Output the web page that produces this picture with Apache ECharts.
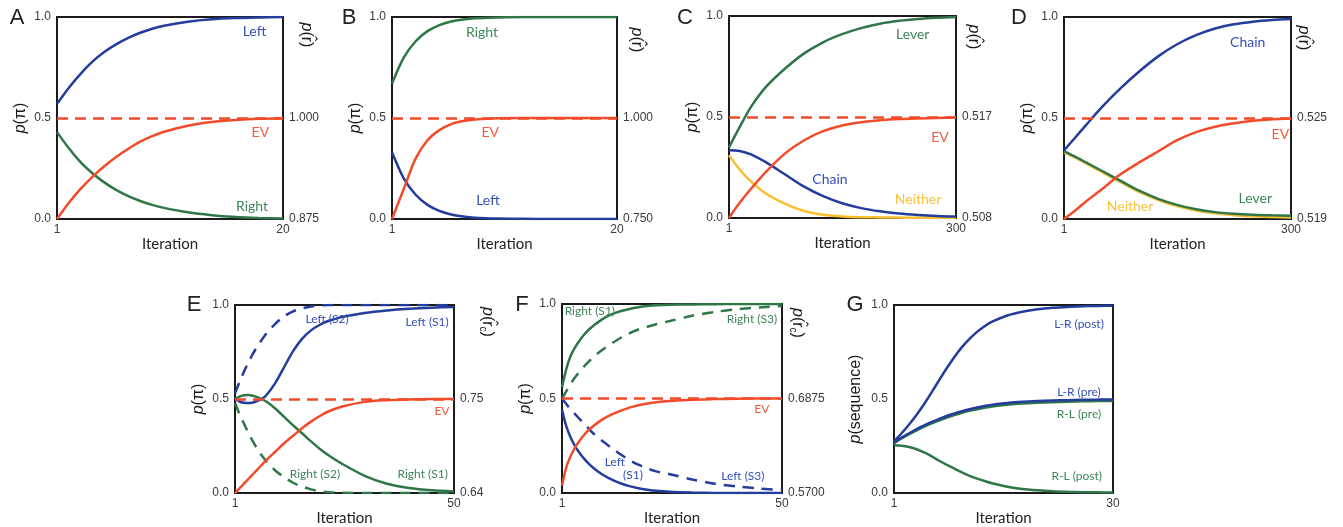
<!DOCTYPE html>
<html>
<head>
<meta charset="utf-8">
<title>Policy learning curves</title>
<script src="https://cdn.jsdelivr.net/npm/echarts@6/dist/echarts.min.js"></script>
<style>
  html, body { margin: 0; padding: 0; background: #fff; }
  #chart { width: 1343px; height: 527px; }
</style>
</head>
<body>
<div id="chart"></div>
<script>
// line colours
const BLUE = '#243c9c', GREEN = '#2f7649', RED = '#f24b2a', YELLOW = '#f9bf30';
// label colours (a bit lighter than the lines)
const BLUE_T = '#3450b8', GREEN_T = '#3d8658', RED_T = '#f35a3a', YELLOW_T = '#fbc03c';

// ---- A ----
const iterA = [1, 2, 3, 4, 5, 6, 7, 8, 9, 10, 12, 14, 16, 18, 20];
const aLeft = [0.57, 0.65, 0.72, 0.78, 0.828, 0.866, 0.897, 0.922, 0.942, 0.957, 0.977, 0.989, 0.995, 0.998, 1.0];
const aRight = [0.43, 0.35, 0.28, 0.225, 0.18, 0.143, 0.113, 0.089, 0.07, 0.055, 0.033, 0.019, 0.01, 0.005, 0.002];
const aEV = [0, 0.08, 0.15, 0.21, 0.262, 0.308, 0.348, 0.383, 0.41, 0.432, 0.462, 0.48, 0.49, 0.496, 0.499];
const rightA = ['0.875', '1.000'];

// ---- B ----
const iterB = [1, 2, 3, 4, 5, 6, 7, 8, 10, 12, 14, 16, 18, 20];
const bRight = [0.67, 0.8, 0.88, 0.93, 0.96, 0.978, 0.988, 0.994, 0.998, 1, 1, 1, 1, 1];
const bLeft = [0.33, 0.2, 0.12, 0.07, 0.04, 0.022, 0.012, 0.006, 0.002, 0.001, 0, 0, 0, 0];
const bEV = [0, 0.15, 0.3, 0.39, 0.44, 0.47, 0.485, 0.493, 0.499, 0.5, 0.5, 0.5, 0.5, 0.5];
const rightB = ['0.750', '1.000'];

// ---- C ----
const iterC = [1, 15, 30, 50, 75, 100, 125, 150, 175, 200, 225, 250, 275, 300];
const cLever = [0.35, 0.45, 0.55, 0.65, 0.74, 0.815, 0.87, 0.91, 0.94, 0.962, 0.976, 0.985, 0.991, 0.995];
const cChain = [0.335, 0.332, 0.315, 0.275, 0.215, 0.155, 0.108, 0.073, 0.049, 0.033, 0.022, 0.015, 0.01, 0.007];
const cNeither = [0.31, 0.24, 0.18, 0.12, 0.07, 0.035, 0.016, 0.008, 0.004, 0.003, 0.002, 0.001, 0.001, 0];
const cEV = [0, 0.075, 0.145, 0.23, 0.32, 0.385, 0.43, 0.458, 0.474, 0.484, 0.49, 0.493, 0.495, 0.497];
const rightC = ['0.508', '0.517'];

// ---- D ----
const iterD = [1, 15, 30, 50, 75, 100, 125, 150, 175, 200, 225, 250, 275, 300];
const dChain = [0.34, 0.4, 0.465, 0.55, 0.645, 0.73, 0.805, 0.865, 0.91, 0.943, 0.964, 0.977, 0.985, 0.99];
const dLever = [0.335, 0.31, 0.28, 0.24, 0.19, 0.14, 0.1, 0.07, 0.048, 0.034, 0.026, 0.021, 0.018, 0.016];
const dNeither = [0.33, 0.305, 0.275, 0.234, 0.184, 0.134, 0.094, 0.064, 0.042, 0.028, 0.019, 0.013, 0.01, 0.008];
const dEV = [0, 0.04, 0.087, 0.145, 0.22, 0.28, 0.335, 0.39, 0.43, 0.457, 0.474, 0.486, 0.494, 0.498];
const rightD = ['0.519', '0.525'];

// ---- E ----
const iterE = [1, 2, 3, 4, 5, 6, 7, 8, 10, 12, 14, 16, 18, 20, 22, 25, 30, 35, 40, 45, 50];
const eLeftS1 = [0.5, 0.487, 0.48, 0.479, 0.482, 0.49, 0.5, 0.52, 0.585, 0.67, 0.755, 0.82, 0.865, 0.895, 0.916, 0.937, 0.958, 0.971, 0.98, 0.986, 0.99];
const eLeftS2 = [0.53, 0.59, 0.645, 0.695, 0.74, 0.78, 0.815, 0.848, 0.9, 0.94, 0.966, 0.982, 0.992, 0.997, 1, 1, 1, 1, 1, 1, 1];
const eRightS1 = [0.5, 0.513, 0.52, 0.521, 0.518, 0.51, 0.5, 0.487, 0.45, 0.405, 0.36, 0.318, 0.275, 0.235, 0.2, 0.155, 0.092, 0.05, 0.027, 0.015, 0.009];
const eRightS2 = [0.48, 0.42, 0.37, 0.32, 0.275, 0.235, 0.2, 0.17, 0.12, 0.085, 0.055, 0.035, 0.02, 0.01, 0.005, 0.002, 0, 0, 0, 0, 0];
const eEV = [0, 0.025, 0.05, 0.075, 0.1, 0.125, 0.15, 0.175, 0.22, 0.265, 0.305, 0.345, 0.38, 0.41, 0.435, 0.46, 0.485, 0.494, 0.498, 0.5, 0.5];
const rightE = ['0.64', '0.75'];

// ---- F ----
const iterF = [1, 2, 3, 4, 5, 6, 7, 8, 10, 12, 14, 16, 18, 20, 22, 25, 30, 35, 40, 45, 50];
const fRightS1 = [0.56, 0.66, 0.73, 0.775, 0.81, 0.84, 0.865, 0.885, 0.92, 0.945, 0.962, 0.974, 0.983, 0.989, 0.993, 0.996, 0.998, 0.999, 1, 1, 1];
const fRightS3 = [0.5, 0.54, 0.58, 0.615, 0.645, 0.672, 0.697, 0.72, 0.758, 0.79, 0.82, 0.845, 0.865, 0.88, 0.893, 0.91, 0.938, 0.958, 0.972, 0.982, 0.99];
const fLeftS1 = [0.44, 0.35, 0.29, 0.245, 0.21, 0.18, 0.155, 0.133, 0.098, 0.072, 0.052, 0.037, 0.026, 0.018, 0.012, 0.007, 0.003, 0.001, 0, 0, 0];
const fLeftS3 = [0.5, 0.47, 0.44, 0.415, 0.39, 0.365, 0.34, 0.315, 0.275, 0.24, 0.205, 0.175, 0.15, 0.13, 0.115, 0.1, 0.072, 0.05, 0.035, 0.024, 0.017];
const fEV = [0.04, 0.14, 0.2, 0.245, 0.28, 0.31, 0.335, 0.355, 0.39, 0.415, 0.435, 0.452, 0.465, 0.474, 0.481, 0.487, 0.494, 0.497, 0.499, 0.5, 0.5];
const rightF = ['0.5700', '0.6875'];

// ---- G ----
const iterG = [1, 2, 3, 4, 5, 6, 7, 8, 9, 10, 11, 12, 13, 14, 16, 18, 20, 22, 24, 26, 28, 30];
const gLRpost = [0.275, 0.318, 0.365, 0.417, 0.474, 0.537, 0.602, 0.665, 0.724, 0.776, 0.82, 0.857, 0.887, 0.911, 0.944, 0.964, 0.977, 0.985, 0.99, 0.993, 0.995, 0.996];
const gLRpre = [0.27, 0.295, 0.318, 0.34, 0.36, 0.378, 0.394, 0.41, 0.423, 0.435, 0.446, 0.455, 0.463, 0.47, 0.479, 0.485, 0.489, 0.492, 0.494, 0.496, 0.497, 0.498];
const gRLpre = [0.265, 0.29, 0.313, 0.334, 0.354, 0.371, 0.387, 0.402, 0.415, 0.427, 0.437, 0.446, 0.454, 0.461, 0.47, 0.476, 0.48, 0.483, 0.486, 0.488, 0.489, 0.49];
const gRLpost = [0.255, 0.252, 0.245, 0.233, 0.216, 0.195, 0.172, 0.15, 0.13, 0.11, 0.092, 0.077, 0.064, 0.052, 0.034, 0.022, 0.015, 0.01, 0.007, 0.005, 0.004, 0.003];

const P = '{i|p}(π)';
const R = '{i|p}(r̂)';
const RC = '{i|p}(r̂{s|c})';

const panels = [
  { letter: 'A', at: [17, 18], box: [57, 17, 226, 202], xs: iterA, xMax: 20, right: rightA, rTitle: R, rAt: [306, 35], ref: true, tagSize: 14,
    lines: [{ ys: aLeft, color: BLUE }, { ys: aRight, color: GREEN }, { ys: aEV, color: RED }],
    tags: [[17.6, 0.93, 'Left', BLUE_T], [18.1, 0.43, 'EV', RED_T], [17.4, 0.06, 'Right', GREEN_T]] },
  { letter: 'B', at: [349, 18], box: [392, 17, 225, 202], xs: iterB, xMax: 20, right: rightB, rTitle: R, rAt: [636, 40], ref: true, tagSize: 14,
    lines: [{ ys: bRight, color: GREEN }, { ys: bLeft, color: BLUE }, { ys: bEV, color: RED }],
    tags: [[8.6, 0.925, 'Right', GREEN_T], [9.3, 0.43, 'EV', RED_T], [9.1, 0.094, 'Left', BLUE_T]] },
  { letter: 'C', at: [685, 18], box: [729, 16, 227, 202], xs: iterC, xMax: 300, right: rightC, rTitle: R, rAt: [973, 37], ref: true, tagSize: 14,
    lines: [{ ys: cNeither, color: YELLOW }, { ys: cLever, color: GREEN }, { ys: cChain, color: BLUE }, { ys: cEV, color: RED }],
    tags: [[243, 0.91, 'Lever', GREEN_T], [279, 0.4, 'EV', RED_T], [134, 0.19, 'Chain', BLUE_T], [250, 0.094, 'Neither', YELLOW_T]] },
  { letter: 'D', at: [1019, 18], box: [1064, 17, 227, 202], xs: iterD, xMax: 300, right: rightD, rTitle: R, rAt: [1303, 38], ref: true, tagSize: 14,
    lines: [{ ys: dNeither, color: YELLOW }, { ys: dLever, color: GREEN }, { ys: dChain, color: BLUE }, { ys: dEV, color: RED }],
    tags: [[243, 0.876, 'Chain', BLUE_T], [286, 0.416, 'EV', RED_T], [253, 0.104, 'Lever', GREEN_T], [88, 0.06, 'Neither', YELLOW_T]] },
  { letter: 'E', at: [194, 305], box: [235, 305, 219, 195], xs: iterE, xMax: 50, right: rightE, rTitle: RC, rAt: [487, 322], ref: true, tagSize: 12,
    lines: [{ ys: eRightS2, color: GREEN, dash: true }, { ys: eLeftS2, color: BLUE, dash: true },
            { ys: eRightS1, color: GREEN }, { ys: eLeftS1, color: BLUE }, { ys: eEV, color: RED }],
    tags: [[21.6, 0.923, 'Left (S2)', BLUE_T], [44, 0.91, 'Left (S1)', BLUE_T], [47.3, 0.436, 'EV', RED_T],
           [18.9, 0.103, 'Right (S2)', GREEN_T], [43, 0.1, 'Right (S1)', GREEN_T]] },
  { letter: 'F', at: [522, 305], box: [562, 304, 220, 195], xs: iterF, xMax: 50, right: rightF, rTitle: RC, rAt: [797, 323], ref: true, tagSize: 12,
    lines: [{ ys: fRightS3, color: GREEN, dash: true }, { ys: fLeftS3, color: BLUE, dash: true },
            { ys: fRightS1, color: GREEN }, { ys: fLeftS1, color: BLUE }, { ys: fEV, color: RED }],
    tags: [[7.2, 0.96, 'Right (S1)', GREEN_T], [43.3, 0.918, 'Right (S3)', GREEN_T], [45.5, 0.446, 'EV', RED_T],
           [12.8, 0.164, 'Left', BLUE_T], [16.8, 0.097, '(S1)', BLUE_T], [41.3, 0.092, 'Left (S3)', BLUE_T]] },
  { letter: 'G', at: [855, 305], box: [894, 305, 219, 195], xs: iterG, xMax: 30, right: null, ref: false, tagSize: 12,
    yTitle: '{i|p}(sequence)',
    lines: [{ ys: gRLpre, color: GREEN }, { ys: gLRpre, color: BLUE }, { ys: gRLpost, color: GREEN }, { ys: gLRpost, color: BLUE }],
    tags: [[25.5, 0.897, 'L-R (post)', BLUE_T], [25.5, 0.538, 'L-R (pre)', BLUE_T], [25.5, 0.42, 'R-L (pre)', GREEN_T], [25.2, 0.092, 'R-L (post)', GREEN_T]] }
];

const tickFont = { fontSize: 12, color: '#3a3a3a', fontFamily: 'Liberation Sans' };
const rich = {
  i: { fontStyle: 'italic', fontSize: 16, fontFamily: 'Liberation Sans', color: '#1a1a1a' },
  s: { fontSize: 10, fontFamily: 'Liberation Sans', color: '#1a1a1a', padding: [8, 0, 0, 0] }
};

const option = { animation: false, grid: [], xAxis: [], yAxis: [], series: [], graphic: [] };

panels.forEach((p, gi) => {
  const [l, t, w, h] = p.box;
  option.grid.push({ left: l, top: t, width: w, height: h, show: true, borderColor: '#1b1b1b', borderWidth: 2 });

  option.xAxis.push({
    gridIndex: gi, type: 'value', min: 1, max: p.xMax,
    axisLine: { show: false }, axisTick: { show: false }, splitLine: { show: false },
    axisLabel: Object.assign({ customValues: [1, p.xMax], margin: 5 }, tickFont),
    name: 'Iteration', nameLocation: 'middle', nameGap: 15,
    nameTextStyle: { fontSize: 15, fontFamily: 'Lato', color: '#222' }
  });

  const yLeft = option.yAxis.length;
  option.yAxis.push({
    gridIndex: gi, type: 'value', min: 0, max: 1, interval: 0.5,
    axisLine: { show: false }, axisTick: { show: false }, splitLine: { show: false },
    axisLabel: Object.assign({ formatter: v => v.toFixed(1), margin: 6 }, tickFont),
    name: p.yTitle || P, nameLocation: 'middle', nameRotate: 90, nameGap: p.yTitle ? 30 : 28,
    nameTextStyle: { fontSize: 16, fontFamily: 'Liberation Sans', color: '#1a1a1a', rich: rich }
  });

  if (p.right) {
    const labs = p.right;
    option.yAxis.push({
      gridIndex: gi, type: 'value', position: 'right', min: 0, max: 1, interval: 0.5,
      axisLine: { show: false }, axisTick: { show: false }, splitLine: { show: false },
      axisLabel: Object.assign({ formatter: v => v === 0 ? labs[0] : (v === 0.5 ? labs[1] : ''), margin: 6 }, tickFont)
    });
    option.graphic.push({
      type: 'text', x: p.rAt[0], y: p.rAt[1], rotation: -Math.PI / 2,
      style: { text: p.rTitle, fontSize: 16, fontFamily: 'Liberation Sans', fill: '#1a1a1a', align: 'center', verticalAlign: 'middle', rich: rich }
    });
  }

  option.graphic.push({
    type: 'text', x: p.at[0], y: p.at[1],
    style: { text: p.letter, fontSize: 22, fontFamily: 'Liberation Sans', fill: '#222', align: 'center', verticalAlign: 'middle' }
  });

  p.lines.forEach((ln, k) => {
    const s = {
      type: 'line', xAxisIndex: gi, yAxisIndex: yLeft,
      data: p.xs.map((x, j) => [x, ln.ys[j]]),
      showSymbol: false, smooth: 0.3, silent: true,
      lineStyle: { color: ln.color, width: 2.5, type: ln.dash ? [11, 8] : 'solid' }
    };
    if (k === 0) {
      s.markPoint = {
        symbol: 'circle', symbolSize: 0, silent: true,
        data: p.tags.map(tg => ({
          coord: [tg[0], tg[1]],
          label: { show: true, position: 'inside', formatter: tg[2], color: tg[3], fontSize: p.tagSize, fontFamily: 'Lato' }
        }))
      };
    }
    if (p.ref && k === p.lines.length - 1) {
      s.markLine = {
        silent: true, symbol: ['none', 'none'], label: { show: false },
        lineStyle: { color: RED, width: 2.5, type: [11, 7] },
        data: [{ yAxis: 0.5 }]
      };
    }
    option.series.push(s);
  });
});

const chart = echarts.init(document.getElementById('chart'));
chart.setOption(option);
</script>
</body>
</html>
